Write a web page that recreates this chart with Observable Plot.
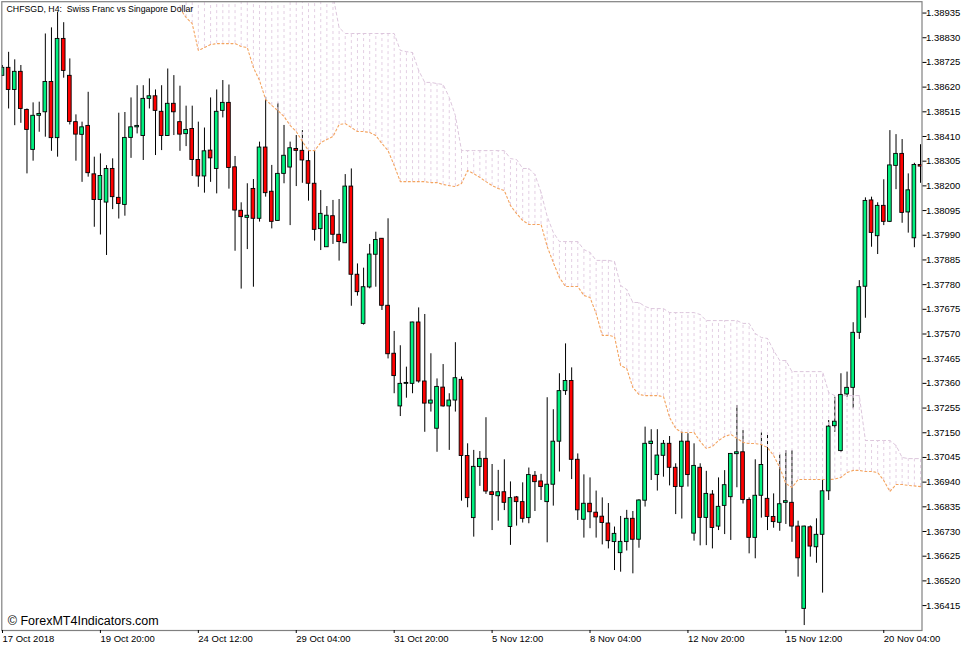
<!DOCTYPE html>
<html>
<head>
<meta charset="utf-8">
<script src="https://cdn.jsdelivr.net/npm/d3@7"></script>
<script src="https://cdn.jsdelivr.net/npm/@observablehq/plot@0.6"></script>
<style>
html,body{margin:0;padding:0;background:#fff}
svg{display:block}
</style>
</head>
<body>
<div id="chart"></div>
<script>
const high=[1.38712,1.38768,1.38736,1.38712,1.38527,1.38553,1.38556,1.38846,1.38872,1.38938,
1.38894,1.38740,1.38502,1.38471,1.38598,1.38322,1.38336,1.38286,1.38315,1.38509,
1.38512,1.38574,1.38626,1.38626,1.38655,1.38608,1.38626,1.38697,1.38669,1.38624,
1.38539,1.38539,1.38471,1.38446,1.38574,1.38608,1.38648,1.38629,1.38325,1.38128,
1.38209,1.38227,1.38386,1.38576,1.38287,1.38551,1.38457,1.38386,1.38414,1.38435,
1.38350,1.38350,1.38180,1.38112,1.38138,1.38142,1.38248,1.38272,1.37868,1.37850,
1.37951,1.38003,1.37976,1.38060,1.37581,1.37520,1.37429,1.37620,1.37681,1.37653,
1.37486,1.37379,1.37440,1.37316,1.37533,1.37387,1.37103,1.37075,1.37070,1.37214,
1.37015,1.36990,1.37035,1.36941,1.36879,1.36937,1.37000,1.36985,1.36973,1.37299,
1.37248,1.37401,1.37528,1.37426,1.37060,1.36971,1.36958,1.36902,1.36873,1.36849,
1.36749,1.36794,1.36820,1.36815,1.36865,1.37174,1.37163,1.37163,1.37117,1.37134,
1.37018,1.37153,1.37146,1.37103,1.37018,1.36986,1.36904,1.36958,1.36989,1.37062,
1.37266,1.37159,1.36873,1.37035,1.37149,1.37142,1.36890,1.37057,1.37074,1.37074,
1.36774,1.36753,1.36754,1.36784,1.36947,1.37202,1.37301,1.37401,1.37408,1.37618,
1.37797,1.38149,1.38152,1.38128,1.38226,1.38435,1.38418,1.38397,1.38251,1.38296,1.38375];

const open=[1.38668,1.38702,1.38608,1.38685,1.38523,1.38353,1.38498,1.38513,1.38642,1.38403,
1.38825,1.38668,1.38471,1.38417,1.38455,1.38249,1.38140,1.38129,1.38272,1.38149,
1.38119,1.38404,1.38449,1.38412,1.38570,1.38581,1.38515,1.38412,1.38549,1.38471,
1.38420,1.38442,1.38310,1.38240,1.38350,1.38272,1.38519,1.38553,1.38279,1.38094,
1.38064,1.38187,1.38060,1.38363,1.38175,1.38051,1.38251,1.38278,1.38357,1.38349,
1.38305,1.38209,1.38016,1.37939,1.38071,1.37992,1.37956,1.38197,1.37822,1.37613,
1.37768,1.37907,1.37975,1.37690,1.37486,1.37262,1.37358,1.37358,1.37619,1.37368,
1.37274,1.37167,1.37342,1.37262,1.37287,1.37375,1.37051,1.36787,1.37004,1.37039,
1.36897,1.36880,1.36897,1.36749,1.36875,1.36855,1.36787,1.36967,1.36943,1.36855,
1.36929,1.37112,1.37327,1.37370,1.37035,1.36780,1.36848,1.36810,1.36793,1.36764,
1.36685,1.36638,1.36685,1.36784,1.36695,1.36861,1.37102,1.36970,1.37052,1.37103,
1.37001,1.36920,1.37112,1.36721,1.37001,1.36788,1.36887,1.36751,1.36839,1.36876,
1.37059,1.37067,1.36864,1.36703,1.36882,1.36869,1.36792,1.36767,1.36852,1.36852,
1.36751,1.36401,1.36748,1.36663,1.36716,1.36901,1.37178,1.37072,1.37313,1.37341,
1.37575,1.37771,1.38138,1.37986,1.38115,1.38047,1.38285,1.38336,1.38087,1.37977,1.38289];

const close=[1.38702,1.38608,1.38685,1.38527,1.38438,1.38498,1.38506,1.38642,1.38403,1.38825,
1.38689,1.38472,1.38418,1.38449,1.38254,1.38140,1.38242,1.38272,1.38152,1.38123,
1.38404,1.38449,1.38455,1.38570,1.38581,1.38519,1.38412,1.38549,1.38513,1.38418,
1.38438,1.38310,1.38240,1.38347,1.38317,1.38515,1.38553,1.38276,1.38095,1.38067,
1.38073,1.38060,1.38363,1.38169,1.38047,1.38251,1.38328,1.38360,1.38349,1.38308,
1.38209,1.38013,1.38081,1.38073,1.37992,1.37961,1.38197,1.37822,1.37748,1.37769,
1.37908,1.37970,1.37690,1.37484,1.37391,1.37358,1.37362,1.37619,1.37368,1.37274,
1.37287,1.37345,1.37262,1.37287,1.37382,1.37051,1.36872,1.37005,1.37039,1.36900,
1.36885,1.36897,1.36852,1.36872,1.36855,1.36784,1.36970,1.36940,1.36919,1.36929,
1.37112,1.37327,1.37370,1.37035,1.36820,1.36848,1.36812,1.36790,1.36766,1.36689,
1.36720,1.36686,1.36784,1.36695,1.36862,1.37103,1.37112,1.37053,1.37103,1.37001,
1.36919,1.37112,1.36970,1.37009,1.36788,1.36890,1.36745,1.36835,1.36927,1.37060,
1.37067,1.36864,1.36703,1.36882,1.37013,1.36792,1.36770,1.36846,1.36859,1.36751,
1.36616,1.36751,1.36666,1.36716,1.36901,1.37176,1.37197,1.37311,1.37341,1.37575,
1.37769,1.38136,1.38000,1.38115,1.38047,1.38287,1.38336,1.38085,1.38181,1.38289,1.38282];

const low=[1.38665,1.38527,1.38456,1.38466,1.38251,1.38305,1.38428,1.38407,1.38347,1.38322,
1.38658,1.38459,1.38305,1.38215,1.38237,1.38024,1.37991,1.37904,1.38099,1.38059,
1.38071,1.38317,1.38421,1.38308,1.38527,1.38329,1.38350,1.38410,1.38414,1.38347,
1.38367,1.38240,1.38194,1.38169,1.38215,1.38166,1.38489,1.38186,1.37922,1.37761,
1.37929,1.37769,1.38046,1.38152,1.38017,1.38050,1.38209,1.38031,1.38197,1.38211,
1.38135,1.37965,1.37925,1.37938,1.37951,1.37880,1.37955,1.37688,1.37731,1.37608,
1.37762,1.37769,1.37670,1.37464,1.37316,1.37219,1.37297,1.37316,1.37361,1.37152,
1.37238,1.37067,1.37259,1.37075,1.37238,1.36859,1.36831,1.36706,1.36922,1.36888,
1.36734,1.36774,1.36819,1.36671,1.36753,1.36766,1.36763,1.36815,1.36862,1.36682,
1.36838,1.36983,1.37309,1.36951,1.36777,1.36702,1.36742,1.36702,1.36673,1.36656,
1.36564,1.36557,1.36647,1.36550,1.36659,1.36834,1.36947,1.36902,1.36961,1.36924,
1.36802,1.36783,1.36919,1.36689,1.36669,1.36670,1.36656,1.36734,1.36717,1.36692,
1.36916,1.36847,1.36635,1.36614,1.36787,1.36734,1.36744,1.36731,1.36760,1.36684,
1.36536,1.36330,1.36621,1.36595,1.36468,1.36862,1.37152,1.37066,1.37301,1.37252,
1.37547,1.37637,1.37939,1.37908,1.38031,1.38044,1.38184,1.38041,1.37999,1.37937,1.38211];

// Ichimoku cloud, one value per bar starting at bar 29
const cloudStart=29;
const spanA=[1.38954,1.38916,1.38890,1.38776,1.38788,1.38801,1.38805,1.38805,1.38805,1.38805,
1.38793,1.38788,1.38703,1.38648,1.38567,1.38542,1.38520,1.38495,1.38457,1.38431,
1.38389,1.38350,1.38350,1.38384,1.38397,1.38410,1.38461,1.38465,1.38448,1.38431,
1.38431,1.38427,1.38414,1.38380,1.38350,1.38287,1.38218,1.38218,1.38218,1.38218,
1.38218,1.38214,1.38214,1.38206,1.38201,1.38197,1.38210,1.38265,1.38252,1.38236,
1.38218,1.38201,1.38189,1.38180,1.38116,1.38082,1.38053,1.38036,1.38036,1.38036,
1.37942,1.37874,1.37810,1.37772,1.37772,1.37772,1.37734,1.37725,1.37657,1.37564,
1.37564,1.37559,1.37436,1.37423,1.37342,1.37313,1.37308,1.37308,1.37308,1.37304,
1.37215,1.37168,1.37151,1.37151,1.37151,1.37113,1.37083,1.37092,1.37117,1.37134,
1.37143,1.37126,1.37109,1.37104,1.37104,1.37100,1.37087,1.37053,1.37002,1.36934,
1.36917,1.36951,1.36951,1.36951,1.36951,1.36951,1.36951,1.36953,1.36960,1.36981,
1.36990,1.36990,1.36985,1.36985,1.36981,1.36947,1.36900,1.36930,1.36930,1.36926,
1.36924,1.36921];
const spanB=[1.39073,1.39073,1.39073,1.39073,1.39073,1.39073,1.39073,1.39073,1.39073,1.39073,
1.39073,1.39073,1.39073,1.39073,1.39073,1.39073,1.39073,1.39073,1.39073,1.39073,
1.39073,1.39073,1.39073,1.39073,1.39073,1.39010,1.38873,1.38848,1.38848,1.38848,
1.38848,1.38848,1.38848,1.38848,1.38848,1.38848,1.38776,1.38771,1.38767,1.38691,
1.38640,1.38640,1.38635,1.38631,1.38576,1.38499,1.38350,1.38350,1.38350,1.38350,
1.38350,1.38350,1.38350,1.38350,1.38316,1.38312,1.38274,1.38274,1.38248,1.38172,
1.38070,1.38002,1.37963,1.37963,1.37963,1.37963,1.37929,1.37917,1.37883,1.37883,
1.37883,1.37878,1.37776,1.37759,1.37704,1.37704,1.37687,1.37678,1.37678,1.37678,
1.37661,1.37661,1.37661,1.37661,1.37661,1.37653,1.37627,1.37627,1.37627,1.37627,
1.37627,1.37627,1.37615,1.37615,1.37572,1.37555,1.37551,1.37500,1.37457,1.37457,
1.37410,1.37410,1.37410,1.37410,1.37410,1.37410,1.37321,1.37308,1.37308,1.37308,
1.37308,1.37308,1.37117,1.37117,1.37117,1.37117,1.37117,1.37096,1.37045,1.37040,
1.37040,1.37040];

const priceTicks=[1.36415,1.36520,1.36625,1.36730,1.36835,1.36940,1.37045,1.37150,1.37255,1.37360,
1.37465,1.37570,1.37675,1.37780,1.37885,1.37990,1.38095,1.38200,1.38305,1.38410,
1.38515,1.38620,1.38725,1.38830,1.38935];
const timeTickBars=[0,16,32,48,64,80,96,112,128,144];
const timeTickLabels=["17 Oct 2018","19 Oct 20:00","24 Oct 12:00","29 Oct 04:00","31 Oct 20:00",
"5 Nov 12:00","8 Nov 04:00","12 Nov 20:00","15 Nov 12:00","20 Nov 04:00"];
const titleText="CHFSGD, H4:  Swiss Franc vs Singapore Dollar";
const creditText="© ForexMT4Indicators.com";

const bars=high.map((h,i)=>({i,high:h,low:low[i],open:open[i],close:close[i]}));
const cloud=spanA.map((a,j)=>({i:j+cloudStart,a,b:spanB[j]}));
const halfBody=0.3;
const chart=Plot.plot({
  width:977,height:650,
  marginLeft:1.3,marginRight:55.5,marginTop:1.2,marginBottom:20,
  style:{fontFamily:"'Liberation Sans',Arial,sans-serif",background:"#fff",overflow:"visible"},
  x:{domain:[0,150],range:[2,920]},
  y:{domain:[1.36309,1.38982],range:[630,1.5]},
  marks:[
    Plot.ruleX(bars,{x:"i",y1:"low",y2:"high",stroke:"#000",strokeWidth:1,clip:"frame"}),
    Plot.ruleX(cloud,{x:"i",y1:"a",y2:"b",stroke:"#E3CFE3",strokeWidth:1,strokeDasharray:"3,3",clip:"frame"}),
    Plot.line(cloud,{x:"i",y:"b",stroke:"#DCC6DC",strokeWidth:1,strokeDasharray:"3,3",curve:"linear",clip:"frame"}),
    Plot.line(cloud,{x:"i",y:"a",stroke:"#F4A460",strokeWidth:1.1,strokeDasharray:"2,2.5",curve:"linear",clip:"frame"}),
    Plot.rect(bars,{
      x1:d=>d.i-halfBody,x2:d=>d.i+halfBody,
      y1:"open",y2:"close",
      fill:d=>d.close>=d.open?"#00F07F":"#FF0000",
      stroke:"#000",strokeWidth:0.9,clip:"frame"
    }),
    Plot.frame({stroke:"#808080",strokeWidth:1.2}),
    Plot.axisY(priceTicks,{anchor:"right",label:null,tickSize:4,tickPadding:0,
      tickFormat:d3.format(".5f"),fontSize:9.5,fill:"#000"}),
    Plot.axisX(timeTickBars,{anchor:"bottom",label:null,tickSize:3,tickPadding:2,textAnchor:"start",
      tickFormat:d=>timeTickLabels[timeTickBars.indexOf(d)],fontSize:9.5,fill:"#000"}),
    Plot.text([titleText],{frameAnchor:"top-left",dx:4.7,dy:7.5,text:d=>d,textAnchor:"start",lineAnchor:"middle",fontSize:8.75,fill:"#000"}),
    Plot.text([creditText],{frameAnchor:"bottom-left",dx:6,dy:-10,text:d=>d,textAnchor:"start",lineAnchor:"middle",fontSize:12.5,fill:"#000"})
  ]
});
document.getElementById("chart").appendChild(chart);
</script>
</body>
</html>
